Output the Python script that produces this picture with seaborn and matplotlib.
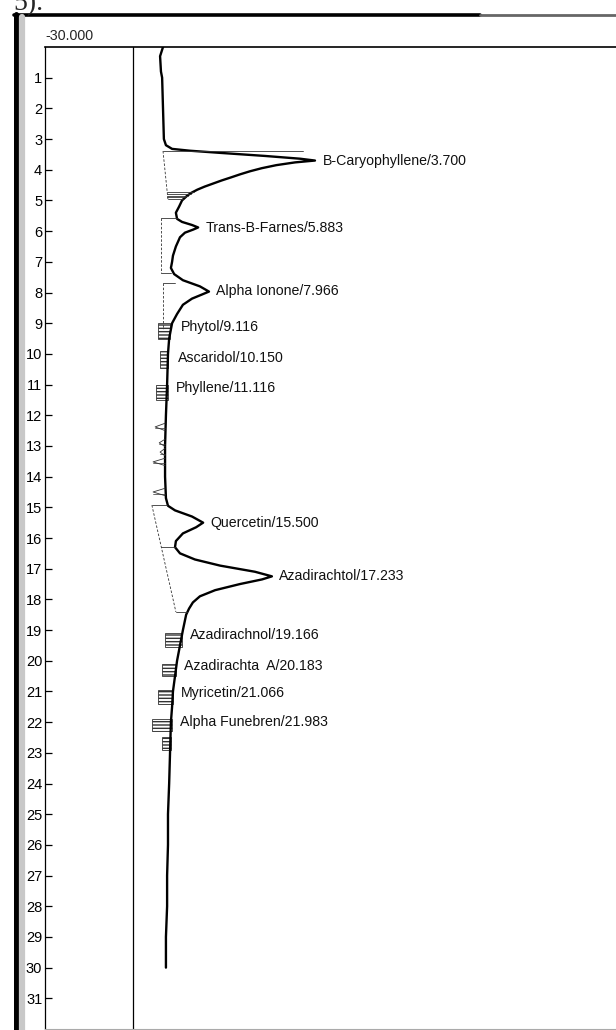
import matplotlib
matplotlib.use("Agg")
import matplotlib.pyplot as plt
import matplotlib.lines as mlines
from matplotlib.patches import Rectangle
import pandas as pd
import seaborn as sns

# chromatogram trace (time in min, signal in mV)
trace_time = [0.0, 0.3, 0.8, 1.0, 2.0, 3.0, 3.2, 3.32, 3.38, 3.45, 3.55, 3.64, 3.70,
              3.76, 3.85, 3.95, 4.05, 4.15, 4.25, 4.35, 4.45, 4.55, 4.65, 4.75, 4.85,
              5.0, 5.2, 5.4, 5.6,
              5.7, 5.8, 5.88, 5.95, 6.05, 6.2, 6.5, 6.8, 7.0, 7.2, 7.4, 7.6, 7.8,
              7.97, 8.05, 8.2, 8.4, 8.7, 9.0, 9.5, 10.0, 11.0, 12.0, 13.0, 14.0,
              14.7, 14.95, 15.1, 15.3, 15.5, 15.65, 15.85, 16.1, 16.3, 16.5, 16.7,
              16.9, 17.1, 17.25, 17.35, 17.5, 17.7, 17.9, 18.1, 18.3, 18.5, 19.0,
              19.5, 20.0, 20.5, 21.0, 21.5, 22.0, 23.0, 24.0, 25.0, 26.0, 27.0,
              28.0, 29.0, 30.0]
trace_signal = [10.3, 9.3, 9.6, 10.0, 10.3, 10.6, 11.3, 13.4, 19.5, 29.8, 45.1, 57.1, 62.2,
                55.4, 49.0, 44.0, 40.0, 36.6, 33.5, 30.3, 27.4, 24.5, 22.0, 20.0, 18.5,
                16.8, 15.8, 14.7, 15.1,
                16.8, 20.2, 22.3, 20.6, 17.8, 16.1, 14.7, 13.7, 13.4, 13.0, 14.1, 17.1, 22.9,
                26.0, 24.0, 20.2, 17.1, 15.1, 13.4, 12.4, 12.0, 11.7, 11.3, 11.0, 11.0,
                11.3, 12.0, 14.4, 20.2, 24.0, 21.6, 17.1, 14.7, 14.4, 16.1, 21.2,
                29.8, 41.7, 47.5, 44.1, 36.6, 28.1, 22.9, 20.5, 19.2, 18.2, 17.1,
                16.1, 15.1, 14.4, 13.7, 13.4, 13.0, 12.7, 12.4, 12.0, 12.0, 11.7,
                11.7, 11.3, 11.3]

peak_names = ["B-Caryophyllene", "Trans-B-Farnes", "Alpha Ionone", "Phytol", "Ascaridol",
              "Phyllene", "Quercetin", "Azadirachtol", "Azadirachnol", "Azadirachta  A",
              "Myricetin", "Alpha Funebren"]
peak_times = [3.700, 5.883, 7.966, 9.116, 10.150, 11.116, 15.500, 17.233, 19.166,
              20.183, 21.066, 21.983]
label_x = [64.9, 25.0, 28.4, 16.3, 15.5, 14.6, 26.4, 49.9, 19.5, 17.5, 16.3, 16.1]

# integration marks
drop_t = [3.39, 5.57, 7.38, 7.68, 14.93, 16.29, 18.41, 4.72, 4.78, 4.84, 4.90, 4.96]
drop_x0 = [10.3, 9.5, 9.5, 10.3, 6.5, 9.7, 14.7, 11.6, 11.7, 11.7, 11.8, 11.9]
drop_x1 = [58.0, 15.1, 13.0, 14.4, 11.7, 14.4, 18.5, 21.0, 19.8, 18.8, 17.8, 17.0]
base_t0 = [3.39, 5.57, 7.68, 14.93]
base_x0 = [10.3, 9.5, 10.3, 6.5]
base_t1 = [4.98, 7.38, 9.2, 18.41]
base_x1 = [12.0, 9.5, 10.3, 14.7]
box_t0 = [9.0, 9.9, 11.0, 19.1, 20.1, 20.96, 21.9, 22.5]
box_t1 = [9.5, 10.45, 11.5, 19.55, 20.5, 21.4, 22.3, 22.9]
box_left = [8.6, 9.3, 7.9, 11.0, 10.0, 8.6, 6.5, 10.0]
box_right = [12.7, 12.0, 12.0, 16.8, 14.7, 13.7, 13.4, 13.0]
spike_t = [12.38, 12.9, 13.2, 13.52, 14.5]
spike_x = [7.6, 9.0, 9.3, 6.9, 6.9]

sns.set_style("white")
plt.rcParams["font.family"] = ["Liberation Sans", "DejaVu Sans"]

W, H = 616, 1030
fig = plt.figure(figsize=(W / 100, H / 100), dpi=100)
ax = fig.add_axes([45 / W, 1 / H, (W - 45) / W, (1029 - 47) / H])

df = pd.DataFrame({"time": trace_time, "signal": trace_signal})
sns.lineplot(data=df, x="signal", y="time", sort=False, orient="y", estimator=None,
             color="black", lw=1.7, ax=ax)

for t, a, b in zip(drop_t, drop_x0, drop_x1):
    ax.plot([a, b], [t, t], color="#333333", lw=0.6)
for t0, a, t1, b in zip(base_t0, base_x0, base_t1, base_x1):
    ax.plot([a, b], [t0, t1], color="#333333", lw=0.6, ls=(0, (3, 2)))
for t0, t1, a, b in zip(box_t0, box_t1, box_left, box_right):
    ax.add_patch(Rectangle((a, t0), b - a, t1 - t0, fill=False, hatch="-----",
                           edgecolor="#333333", lw=0.6))
for t, s in zip(spike_t, spike_x):
    ax.plot([11.0, s, 11.0], [t - 0.12, t, t + 0.12], color="#333333", lw=0.6)
    ax.plot([s, 11.0], [t + 0.05, t + 0.05], color="#333333", lw=0.5)

for name, rt, lx in zip(peak_names, peak_times, label_x):
    ax.text(lx, rt, f"{name}/{rt:.3f}", fontsize=10.2, va="center", ha="left", color="#111111")

ax.axvline(0, color="black", lw=0.9)
ax.set_xlim(-30, 165)
ax.set_ylim(32.0, 0)
ax.set_yticks(range(1, 32))
ax.set_yticklabels([str(i) for i in range(1, 32)])
ax.set_xticks([])
ax.tick_params(axis="y", direction="in", length=5, width=0.9, pad=2, labelsize=10.5,
               left=True, colors="black")
ax.set_xlabel("")
ax.set_ylabel("")
ax.spines["right"].set_visible(False)
ax.spines["left"].set_color("black")
ax.spines["left"].set_linewidth(0.9)
ax.spines["top"].set_color("black")
ax.spines["top"].set_linewidth(1.2)
ax.spines["bottom"].set_color("#aaaaaa")
ax.annotate("-30.000", xy=(0, 1), xycoords="axes fraction", xytext=(0.5, 3),
            textcoords="offset points", ha="left", va="bottom", fontsize=10.3)

# page frame around the chart
fig.add_artist(mlines.Line2D([14 / W, 480 / W], [1 - 15 / H, 1 - 15 / H], color="black", lw=2.6))
fig.add_artist(mlines.Line2D([480 / W, 1], [1 - 15 / H, 1 - 15 / H], color="#666666", lw=2.0))
fig.add_artist(mlines.Line2D([16 / W, 16 / W], [0, 1 - 14 / H], color="black", lw=3.6))
fig.add_artist(mlines.Line2D([21.5 / W, 21.5 / W], [0, 1 - 17 / H], color="#c8c8c8", lw=4.5))
fig.text(13 / W, 1 - 10 / H, "5).", family="Liberation Serif", fontsize=20, va="baseline", ha="left")

fig.savefig("out.png", dpi=100)
